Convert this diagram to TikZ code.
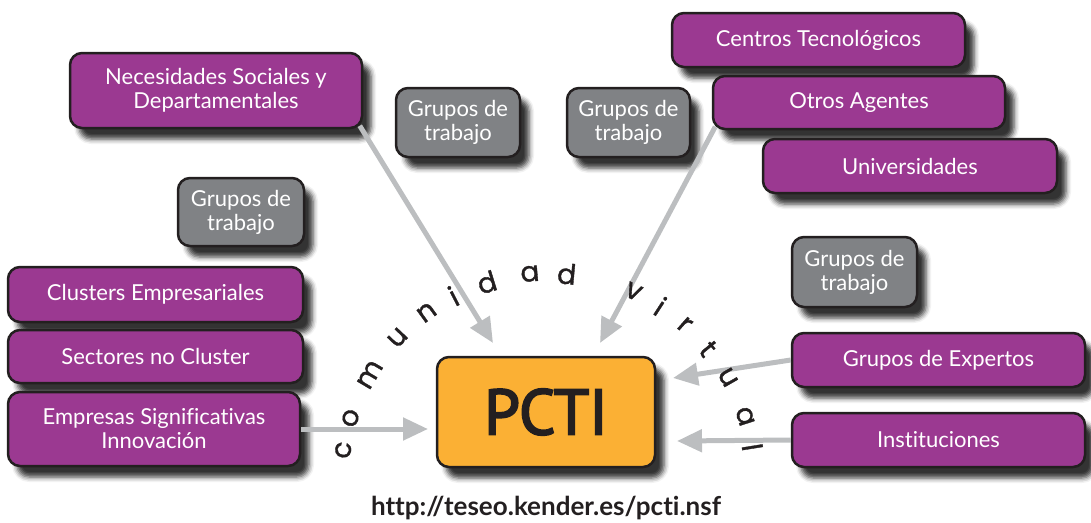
\documentclass[tikz,border=0pt]{standalone}
\usepackage{fontspec}
\setmainfont{Lato}[Ligatures=NoCommon]
\newfontfamily\pctifont{PT Sans}[FakeBold=3]
\newfontfamily\arcfont{Poppins}[FakeBold=1.2]
\usetikzlibrary{shadows.blur,arrows.meta,calc}
\definecolor{pur}{RGB}{155,57,145}
\definecolor{gry}{RGB}{128,130,133}
\definecolor{org}{RGB}{251,176,52}
\definecolor{arr}{RGB}{188,190,192}
\definecolor{dark}{RGB}{35,31,32}
\begin{document}
\begin{tikzpicture}[x=1pt,y=-1pt,
  box/.style={draw=dark, line width=2.5pt, rounded corners=12pt, inner sep=0pt,
    text=white, align=center, font=\fontsize{22}{24}\selectfont,
    blur shadow={shadow xshift=9pt, shadow yshift=-11pt, shadow blur radius=5pt, shadow opacity=80}},
  sz/.style 2 args={minimum width=#1pt, minimum height=#2pt},
  pbox/.style={box, fill=pur},
  gbox/.style={box, fill=gry},
  conn/.style={draw=arr, line width=5pt, -{Triangle[length=25pt,width=22pt]}},
  arcl/.style={font=\arcfont\fontsize{28}{28}\selectfont, text=dark, inner sep=0pt}
]
\useasboundingbox (0,0) rectangle (1091,522);

% boxes
\node[pbox, sz={292}{75}] (nec) at (216,90.5) {Necesidades Sociales y\\Departamentales};
\node[gbox, sz={124}{69}] (g1) at (458,122.5) {Grupos de\\trabajo};
\node[gbox, sz={123}{69}] (g2) at (628.5,122.5) {Grupos de\\trabajo};
\node[gbox, sz={126}{68}] (g3) at (241,212) {Grupos de\\trabajo};
\node[gbox, sz={125}{70}] (g4) at (854.5,272) {Grupos de\\trabajo};
\node[pbox, sz={293}{54}] (cen) at (818.5,40) {Centros Tecnológicos};
\node[pbox, sz={292}{53}] (otr) at (859,102.5) {Otros Agentes};
\node[pbox, sz={294}{54}] (uni) at (910,166) {Universidades};
\node[pbox, sz={295}{55}] (clu) at (155.5,294.5) {Clusters Empresariales};
\node[pbox, sz={295}{53}] (sec) at (155.5,356.5) {Sectores no Cluster};
\node[pbox, sz={292}{74}] (emp) at (154,429) {Empresas Significativas\\Innovación};
\node[pbox, sz={293}{54}] (gexp) at (938.5,360) {Grupos de Expertos};
\node[pbox, sz={293}{54}] (inst) at (938.5,440) {Instituciones};
\node[box, fill=org, text=dark, sz={218}{110}, font=\pctifont\fontsize{64}{64}\selectfont] (pcti) at (546,412) {PCTI};

% connectors
\coordinate (t1) at (493,343);
\coordinate (t2) at (600,343);
\coordinate (t3) at (673,378);
\coordinate (t4) at (677,441);
\coordinate (t5) at (428,429);
\draw[conn] ($(nec.south east)+(-3.5,-3.5)$) -- (t1);
\draw[conn] ($(otr.south west)+(3.5,-3.5)$) -- (t2);
\draw[conn] (gexp.west) -- (t3);
\draw[conn] (inst.west) -- (t4);
\draw[conn] (emp.east) -- (t5);

% arc text
\foreach \ch/\ang [count=\i] in {c/171.7, o/162.6, m/149.4, u/136.6, n/125.9, i/117.2, d/107.2, a/95, d/84.8, v/65.6, i/57.1, r/48.6, t/39.3, u/29.7, a/17.9, l/9.1}
  \node[arcl, rotate=\ang-90] (arc\i) at ({548+207*cos(\ang)},{480-207*sin(\ang)}) {\ch};

% url
\node[font=\bfseries\fontsize{26}{26}\selectfont, text=dark] (url) at (546,508) {http://teseo.kender.es/pcti.nsf};
\end{tikzpicture}
\end{document}
